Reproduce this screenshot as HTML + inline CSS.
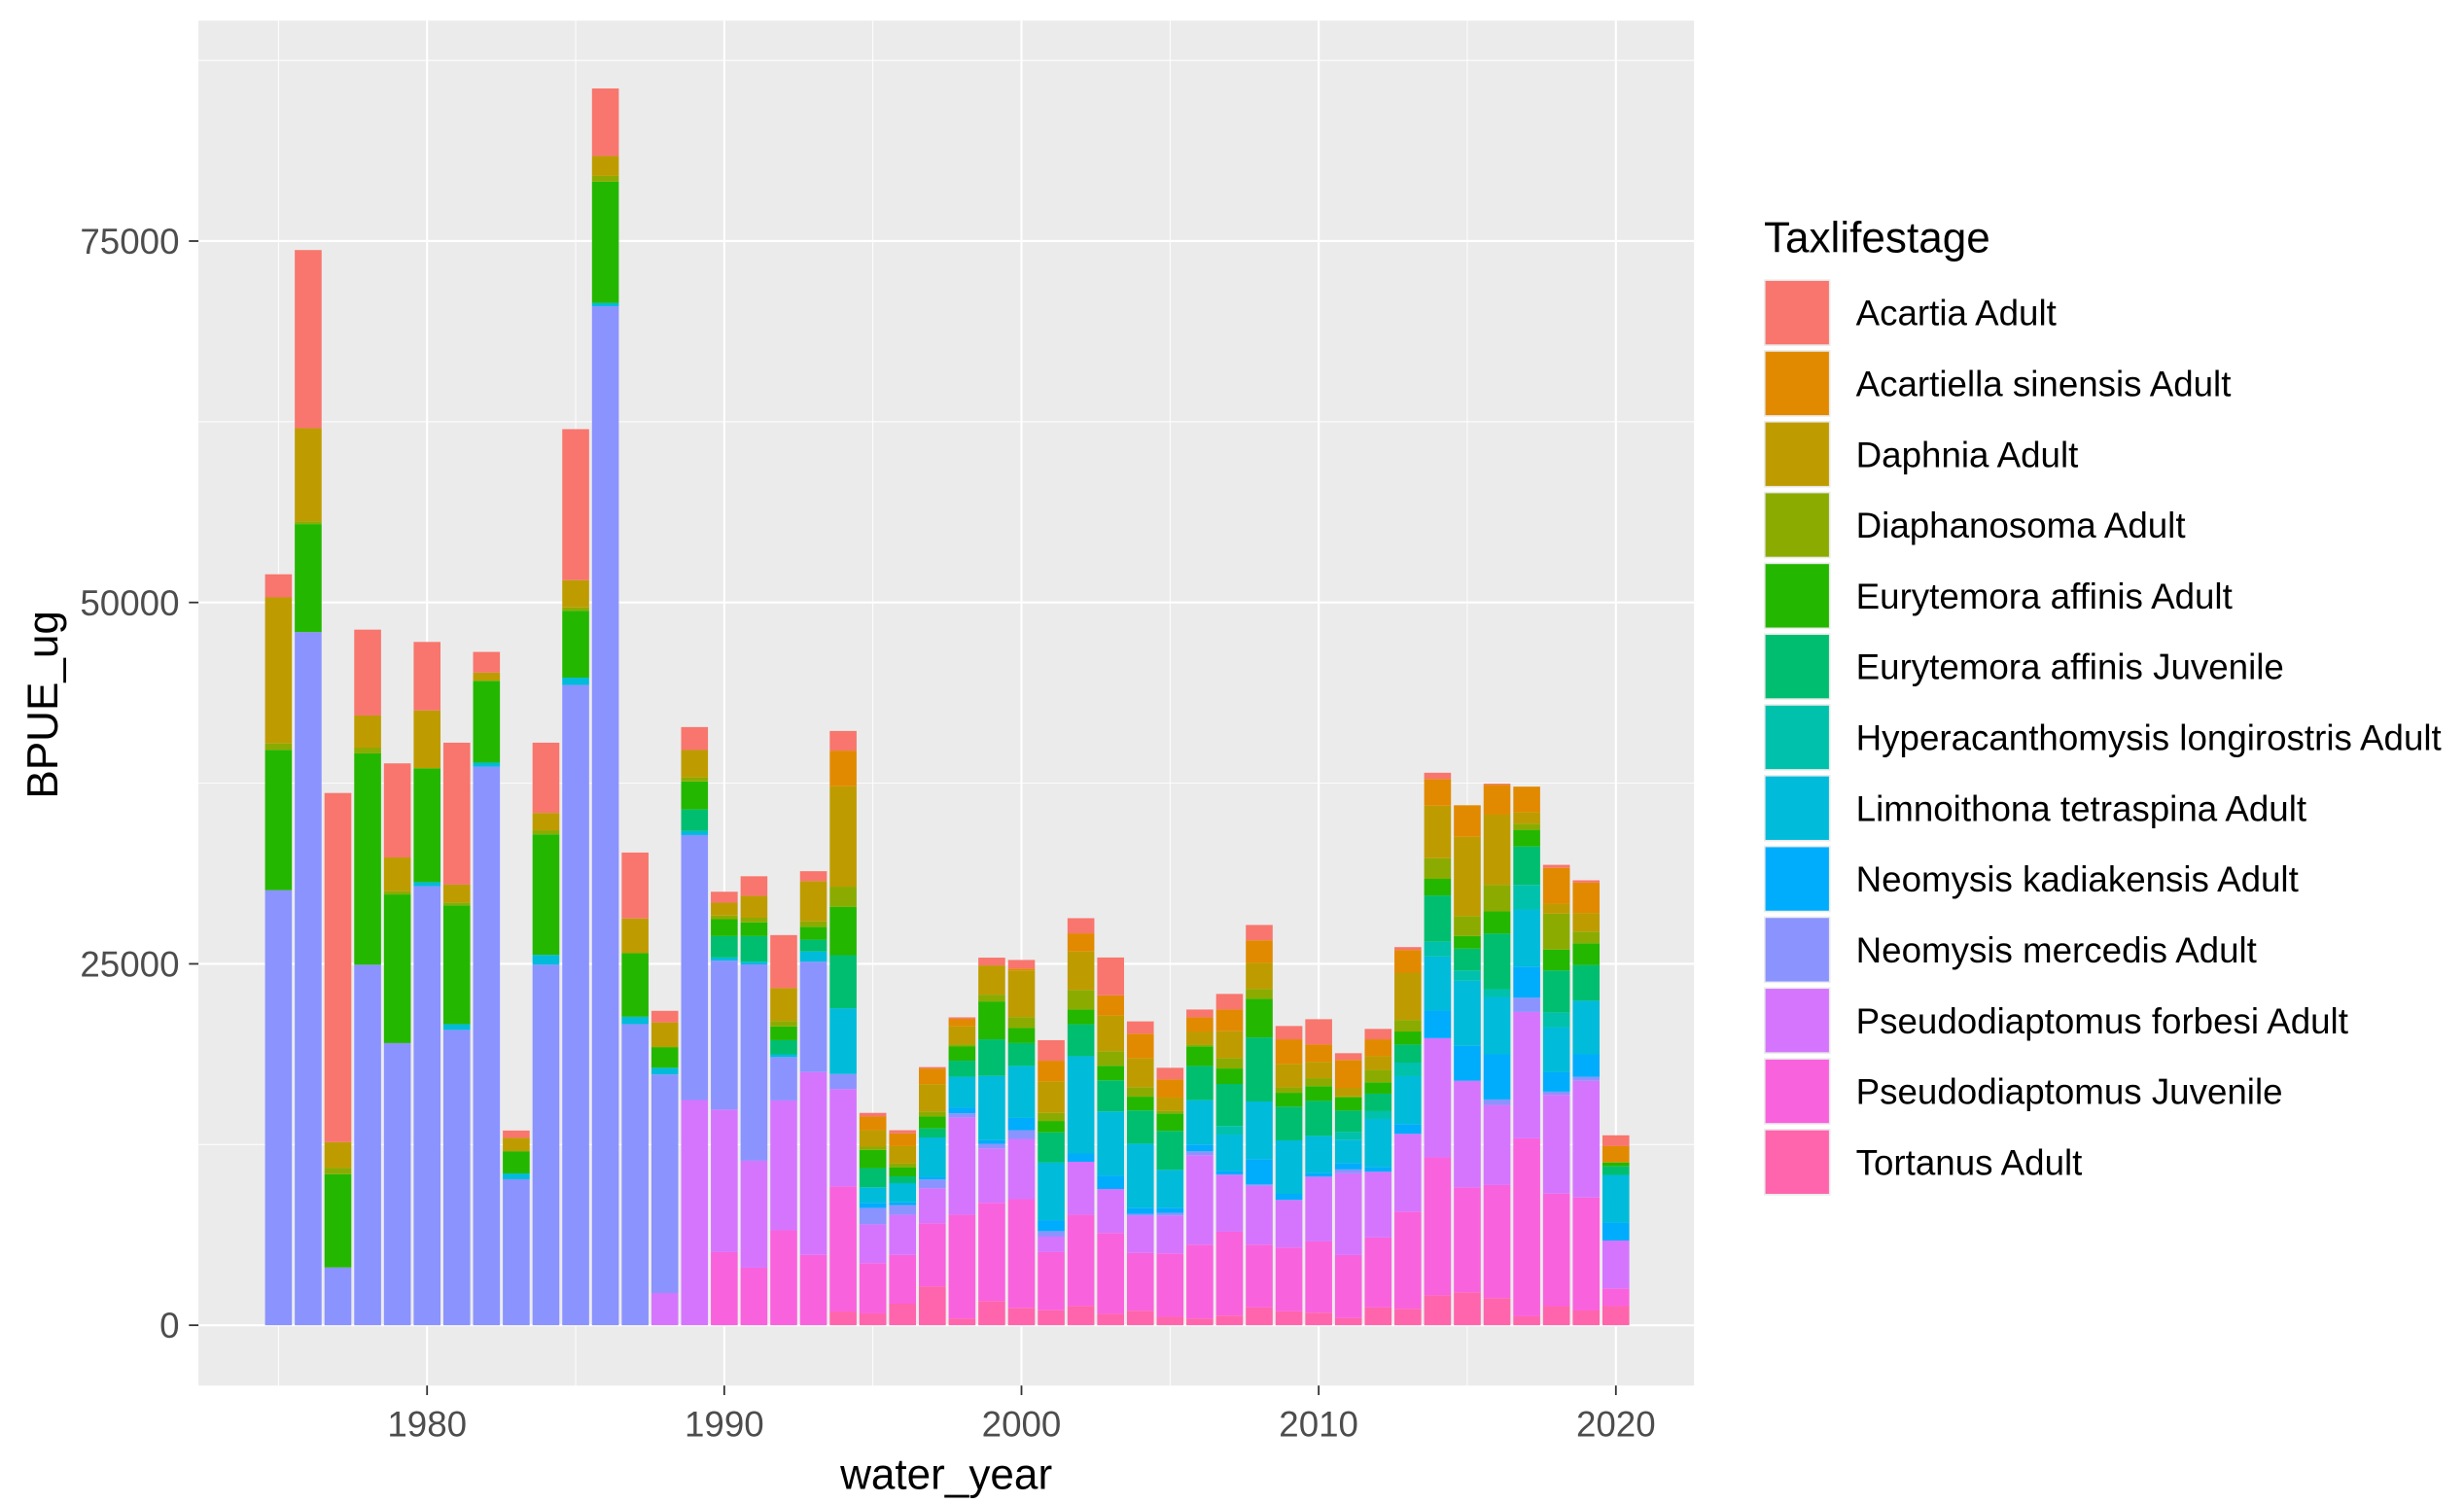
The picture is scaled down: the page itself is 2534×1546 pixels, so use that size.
<!DOCTYPE html>
<html><head><meta charset="utf-8"><style>
html,body{margin:0;padding:0;background:#fff;}
svg{display:block;}
text{font-family:"Liberation Sans",Arial,sans-serif;}
</style></head><body>
<svg id="chart" width="2534" height="1546" viewBox="0 0 1552 947" preserveAspectRatio="none" xmlns="http://www.w3.org/2000/svg">
<rect x="0" y="0" width="1552" height="947" fill="#fff"/>
<rect x="125" y="13" width="942" height="860" fill="#ebebeb"/>
<g id="grid"></g>
<g id="bars"></g>
<g id="axes"></g>
<text transform="translate(36,444) rotate(-90)" text-anchor="middle" font-size="27" fill="#000">BPUE_ug</text>
<text x="596" y="938" text-anchor="middle" font-size="27" fill="#000">water_year</text>
<g id="legend">
<text x="1111" y="159" font-size="27" fill="#000">Taxlifestage</text>
</g>
</svg>
<script>
const years = [];
for (let y = 1975; y <= 2020; y++) years.push(y);
const taxa = ["Acartia Adult","Acartiella sinensis Adult","Daphnia Adult","Diaphanosoma Adult","Eurytemora affinis Adult","Eurytemora affinis Juvenile","Hyperacanthomysis longirostris Adult","Limnoithona tetraspina Adult","Neomysis kadiakensis Adult","Neomysis mercedis Adult","Pseudodiaptomus forbesi Adult","Pseudodiaptomus Juvenile","Tortanus Adult"];
const colors = ["#F8766D","#E18A00","#BE9C00","#8CAB00","#24B700","#00BE70","#00C1AB","#00BBDA","#00ACFC","#8B93FF","#D575FE","#F962DD","#FF65AC"];
// values per taxon, 1975..2020
const acartia = [1600,12330,24150,5940,6510,4740,9820,1430,510,4860,10450,4680,4560,800,1590,760,1360,3670,690,1360,250,220,100,100,540,600,1420,1050,2620,850,810,540,1080,1060,920,1750,470,720,200,430,0,80,0,210,160,750];
const acartiella = [0,0,0,0,0,0,0,0,0,0,0,0,0,0,0,0,0,0,0,2460,950,880,1080,530,0,130,1430,1260,1400,1710,1250,980,1500,1560,1700,1210,1930,1170,1570,1850,2180,2070,1780,2480,2100,1130];
const daphnia = [10100,6430,1770,2220,2330,4000,1230,570,920,1200,1880,1370,2400,1710,1890,890,1510,2270,2780,6950,1140,1210,1890,1230,2020,3220,2180,2660,2460,1990,920,900,1860,1800,1620,1120,560,940,3270,3630,5490,4870,780,690,1290,0];
const diaphanosoma = [450,200,450,400,230,0,200,0,0,280,230,400,0,0,280,250,320,380,380,1390,220,250,350,160,470,760,560,1350,1010,660,180,130,720,690,380,560,110,870,800,1430,1370,1820,430,2480,810,0];
const euryAdult = [9700,7470,6450,14620,10280,7880,8220,5660,1540,8340,4630,8390,4400,1430,1940,1170,950,950,890,3350,1260,630,820,980,2620,1040,790,1020,1010,950,1210,1350,1070,2670,960,1010,900,780,900,1150,880,1540,1150,1450,1500,270];
const euryJuv = [0,0,0,0,0,0,0,0,0,0,0,0,0,0,1490,1480,1770,980,820,3670,1330,470,630,1110,2530,1580,2090,2210,2150,2300,2690,2370,2910,4430,2330,2420,1480,1210,1250,3200,1510,3840,2660,2900,2470,590];
const hyper = [0,0,0,0,0,0,0,0,0,0,0,0,0,0,0,0,0,0,0,0,0,0,0,0,0,0,0,0,0,0,0,0,590,0,0,0,530,540,940,1020,700,540,1700,1020,0,0];
const limno = [0,0,0,0,0,280,400,280,400,680,510,230,510,460,280,220,190,190,700,4550,1070,1330,2720,2120,4450,3600,3980,6730,4430,4430,2620,3070,2510,3990,3700,2550,1620,3320,3320,3740,4510,3970,3950,3120,3710,3300];
const neoKad = [0,0,0,0,0,0,0,0,0,0,0,0,0,0,0,0,0,0,0,0,350,190,190,410,250,850,760,570,940,420,360,470,260,1750,420,270,440,330,670,1910,2420,3120,2150,1340,1560,1240];
const neoMerc = [30100,47950,4000,24940,19520,30370,20430,38640,10100,24940,44290,70490,20830,15120,18330,10300,13580,3000,7640,1040,1140,660,600,280,320,600,380,0,0,130,180,270,0,90,0,0,270,0,0,0,0,380,990,220,270,0];
const pForbesi = [0,0,0,0,0,0,0,0,0,0,0,0,0,2230,15580,9860,7400,8980,12640,6730,2680,2780,2430,6730,3760,4170,1070,3660,3040,2580,2620,6180,3950,4070,3290,4480,5650,4550,5380,8250,7370,5540,8740,6830,8070,3310];
const pJuv = [0,0,0,0,0,0,0,0,0,0,0,0,0,0,0,5060,3980,6570,4870,8660,3480,3380,4360,7180,6800,7520,4020,6320,5590,3990,4390,5110,5800,4350,4420,4930,4370,4840,6720,9540,7260,7820,12310,7790,7820,1230];
const tortanus = [0,0,0,0,0,0,0,0,0,0,0,0,0,0,0,0,0,0,0,950,820,1490,2690,470,1670,1200,1040,1330,790,1010,580,470,670,1230,960,870,490,1230,1140,2070,2280,1880,620,1320,1020,1320];
const yTicks = [0,25000,50000,75000];
const yTickLabels = ["0","25000","50000","75000"];
const xTicks = [1980,1990,2000,2010,2020];

const series = [acartia,acartiella,daphnia,diaphanosoma,euryAdult,euryJuv,hyper,limno,neoKad,neoMerc,pForbesi,pJuv,tortanus];
const NS = "http://www.w3.org/2000/svg";
const X0 = 125, X1 = 1067, Y0 = 13, Y1 = 873;
function yScale(v){ return 835 - v * (227.7/25000); }
function xScale(yr){ return 175.4 + (yr - 1975) * 18.72; }
const bw = 16.9;
function mk(tag, attrs, parent){ const e=document.createElementNS(NS,tag); for(const k in attrs) e.setAttribute(k,attrs[k]); parent.appendChild(e); return e; }

const grid = document.getElementById('grid');
for (let v = 12500; v <= 87500; v += 25000) {
  const l = mk('line',{x1:X0,x2:X1,y1:yScale(v),y2:yScale(v),stroke:'#fff','stroke-width':0.6},grid);
  
  
}
for (let yr = 1975; yr <= 2015; yr += 10) {
  const l = mk('line',{x1:xScale(yr),x2:xScale(yr),y1:Y0,y2:Y1,stroke:'#fff','stroke-width':0.6},grid);
  
  
}
yTicks.forEach(v=>{
  const l = mk('line',{x1:X0,x2:X1,y1:yScale(v),y2:yScale(v),stroke:'#fff','stroke-width':1.3},grid);
  
  
});
xTicks.forEach(yr=>{
  const l = mk('line',{x1:xScale(yr),x2:xScale(yr),y1:Y0,y2:Y1,stroke:'#fff','stroke-width':1.3},grid);
  
  
});

const bars = document.getElementById('bars');
years.forEach((yr,i)=>{
  let cum = 0;
  for (let s = series.length-1; s >= 0; s--) {
    const v = series[s][i];
    if (!v) continue;
    const yTop = yScale(cum+v), yBot = yScale(cum);
    const r = mk('rect',{x:xScale(yr)-bw/2,y:yTop,width:bw,height:yBot-yTop,fill:colors[s]},bars);
    
    
    cum += v;
  }
});

const axes = document.getElementById('axes');
yTicks.forEach((v,i)=>{
  const t = mk('line',{x1:119,x2:125,y1:yScale(v),y2:yScale(v),stroke:'#333','stroke-width':1.1},axes);
  
  
  const lb = mk('text',{x:113,y:yScale(v)+8,'text-anchor':'end','font-size':22.5,fill:'#4d4d4d'},axes);
  lb.textContent = yTickLabels[i];
  
  
});
xTicks.forEach(yr=>{
  const t = mk('line',{x1:xScale(yr),x2:xScale(yr),y1:873,y2:879,stroke:'#333','stroke-width':1.1},axes);
  
  
  const lb = mk('text',{x:xScale(yr),y:905,'text-anchor':'middle','font-size':22.5,fill:'#4d4d4d'},axes);
  lb.textContent = String(yr);
  
  
});

const legend = document.getElementById('legend');
taxa.forEach((name,i)=>{
  const y = 176 + i*44.6;
  const bg = mk('rect',{x:1111,y:y,width:42,height:42,fill:'#ebebeb'},legend);
  
  
  const k = mk('rect',{x:1112,y:y+1,width:40,height:40,fill:colors[i]},legend);
  
  
  const t = mk('text',{x:1169,y:y+29,'font-size':22.5,fill:'#000'},legend);
  t.textContent = name;
  
  
});
</script>
</body></html>
